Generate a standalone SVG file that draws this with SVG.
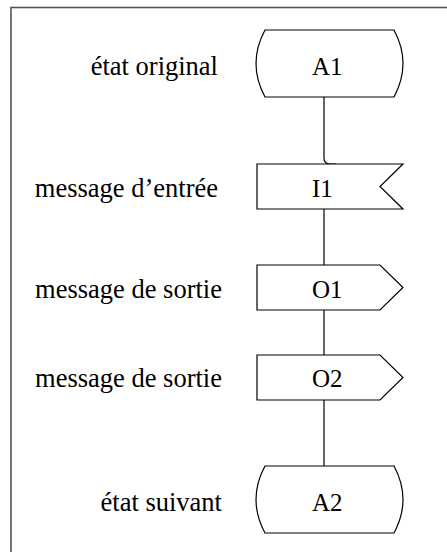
<svg xmlns="http://www.w3.org/2000/svg" width="447" height="552" viewBox="0 0 447 552">
<style>
.shape{fill:#fff;stroke:#000;stroke-width:1.2}
.conn{fill:none;stroke:#000;stroke-width:1.2}
.lbl{font-family:"Liberation Serif",serif;font-size:26.5px;fill:#000;text-anchor:end}
.nt{font-family:"Liberation Serif",serif;font-size:25px;fill:#000}
</style>
<rect x="0" y="0" width="447" height="552" fill="#fff"/>
<rect x="11" y="7.5" width="445" height="555" fill="none" stroke="#555" stroke-width="1.6"/>
<g id="connectors">
<path class="conn" d="M324,97 V158 Q324,164 330,164 H336"/>
<path class="conn" d="M324,209 V265"/>
<path class="conn" d="M324,310 V355"/>
<path class="conn" d="M324,400 V466"/>
</g>
<g id="A1">
<path class="shape" d="M265,30 H394 Q412,63.5 394,97 H265 Q247,63.5 265,30 Z"/>
<text class="nt" x="312" y="75">A1</text>
<text class="lbl" x="218" y="75">état original</text>
</g>
<g id="I1">
<path class="shape" d="M257,164 H403 L380,186.5 L403,209 H257 Z"/>
<text class="nt" x="312" y="197">I1</text>
<text class="lbl" x="218" y="197">message d’entrée</text>
</g>
<g id="O1">
<path class="shape" d="M257,265 H380 L403,287.5 L380,310 H257 Z"/>
<text class="nt" x="312" y="298">O1</text>
<text class="lbl" x="222" y="298">message de sortie</text>
</g>
<g id="O2">
<path class="shape" d="M257,355 H380 L403,377.5 L380,400 H257 Z"/>
<text class="nt" x="312" y="387">O2</text>
<text class="lbl" x="222" y="387">message de sortie</text>
</g>
<g id="A2">
<path class="shape" d="M265,466 H394 Q412,499.5 394,533 H265 Q247,499.5 265,466 Z"/>
<text class="nt" x="312" y="511">A2</text>
<text class="lbl" x="222" y="511">état suivant</text>
</g>
</svg>
